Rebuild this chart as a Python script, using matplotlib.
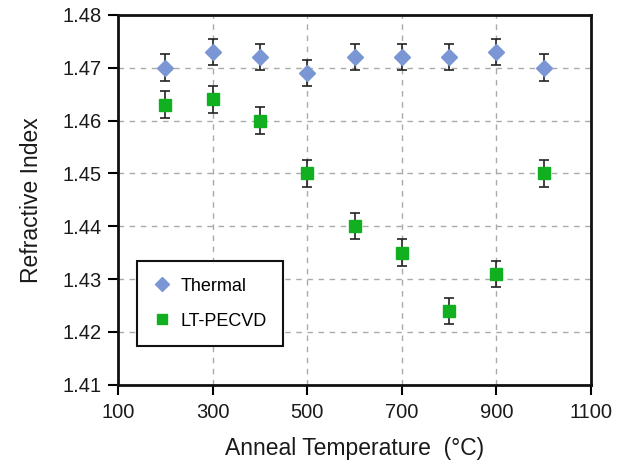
import matplotlib
matplotlib.use("Agg")
import matplotlib.pyplot as plt

plt.rcParams["font.family"] = ["Liberation Sans", "DejaVu Sans"]

# Datos
temps = [200, 300, 400, 500, 600, 700, 800, 900, 1000]
thermal = [1.470, 1.473, 1.472, 1.469, 1.472, 1.472, 1.472, 1.473, 1.470]
pecvd = [1.463, 1.464, 1.460, 1.450, 1.440, 1.435, 1.424, 1.431, 1.450]
err = 0.0025

fig = plt.figure(figsize=(6.28, 4.62), dpi=100)
ax = fig.add_axes([0.188, 0.167, 0.753, 0.801])

ax.errorbar(temps, thermal, yerr=err, fmt="D", color="#7B96D4", markersize=8.5,
            ecolor="#222222", elinewidth=1.2, capsize=3.5, capthick=1.2,
            label="Thermal", zorder=3)
ax.errorbar(temps, pecvd, yerr=err, fmt="s", color="#10B020", markersize=8.5,
            ecolor="#222222", elinewidth=1.2, capsize=3.5, capthick=1.2,
            label="LT-PECVD", zorder=3)

ax.set_xlim(100, 1100)
ax.set_ylim(1.41, 1.48)
ax.set_xticks(range(100, 1101, 200))
ax.set_yticks([1.41, 1.42, 1.43, 1.44, 1.45, 1.46, 1.47, 1.48])
ax.yaxis.set_major_formatter(matplotlib.ticker.FormatStrFormatter("%.2f"))
ax.tick_params(direction="out", length=7, width=1.5, labelsize=14.5,
               labelcolor="#1a1a1a")
ax.tick_params(axis="x", pad=6)
ax.tick_params(axis="y", pad=5)
ax.grid(True, linestyle=(0, (4, 4)), color="#AAAAAA", linewidth=1.0)
ax.set_axisbelow(True)
for s in ax.spines.values():
    s.set_linewidth(2)
    s.set_color("#111111")

ax.set_xlabel("Anneal Temperature  (°C)", fontsize=16.5, labelpad=11,
              color="#1a1a1a")
ax.set_ylabel("Refractive Index", fontsize=16.5, labelpad=14, color="#1a1a1a")

h, l = ax.get_legend_handles_labels()
h = [x[0] for x in h]
leg = ax.legend(h, l, loc="lower left", bbox_to_anchor=(0.04, 0.105),
                fontsize=13, fancybox=False, edgecolor="#111111",
                framealpha=1, handletextpad=0.5, labelspacing=1.0,
                borderpad=0.9, handlelength=1.0, markerscale=0.85,
                borderaxespad=0)
leg.get_frame().set_linewidth(1.5)

fig.savefig("out.png", dpi=100)
